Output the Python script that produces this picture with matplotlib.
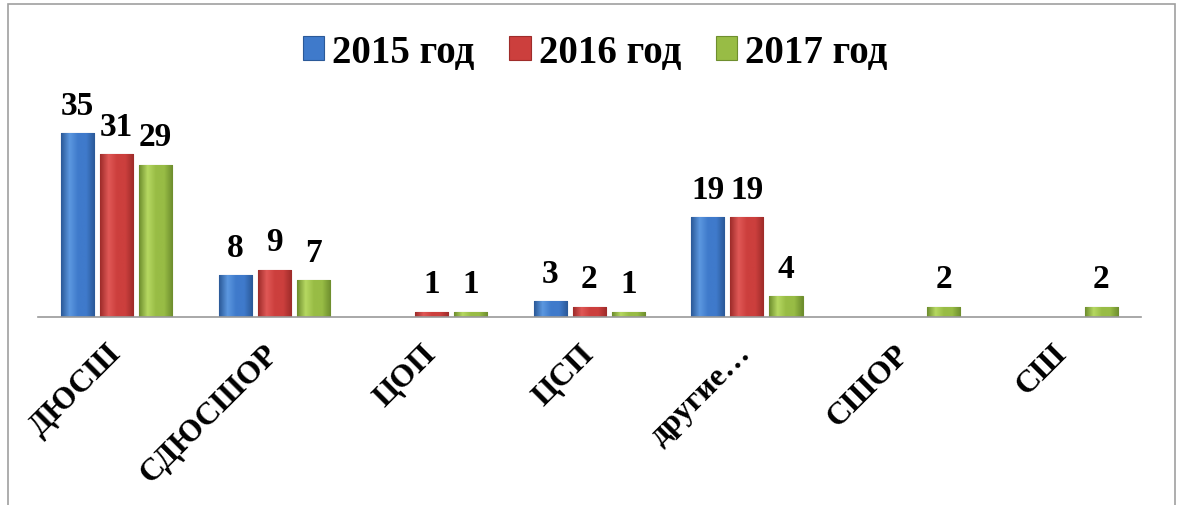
import numpy as np
import matplotlib.pyplot as plt
from matplotlib.patches import Rectangle
from matplotlib.colors import LinearSegmentedColormap

categories = ['ДЮСШ', 'СДЮСШОР', 'ЦОП', 'ЦСП', 'другие…', 'СШОР', 'СШ']
years = ['2015 год', '2016 год', '2017 год']
v2015 = [35, 8, 0, 3, 19, 0, 0]
v2016 = [31, 9, 1, 2, 19, 0, 0]
v2017 = [29, 7, 1, 1, 4, 2, 2]

colors = ['#3F7ACB', '#CC3F3D', '#98BC45']
shades = [('#2B5998', '#5C98E0'), ('#9E2C2A', '#E05856'), ('#6E8E2E', '#B6D862')]

plt.rcParams['font.family'] = ['Liberation Serif', 'DejaVu Serif']
plt.rcParams['font.weight'] = 'bold'

fig = plt.figure(figsize=(11.81, 5.06), dpi=100)
ax = fig.add_axes([0.032, 0.3715, 0.934, 0.415])

x = np.arange(len(categories))
width = 0.21
step = 0.248

for i, (vals, c, sh, lab) in enumerate(zip([v2015, v2016, v2017], colors, shades, years)):
    pos = x + (i - 1) * step
    h = [v if v > 0 else np.nan for v in vals]
    bars = ax.bar(pos, h, width, color=c, edgecolor=sh[0], linewidth=0.8, label=lab, zorder=2)
    cmap = LinearSegmentedColormap.from_list('g', [sh[0], sh[1], c, c, sh[0]])
    grad = np.linspace(0, 1, 64).reshape(1, -1)
    for b, v in zip(bars, vals):
        if not v > 0:
            continue
        x0, y0 = b.get_x(), b.get_y()
        im = ax.imshow(grad, cmap=cmap, aspect='auto', zorder=3,
                       extent=[x0, x0 + b.get_width(), y0, y0 + b.get_height()])
        im.set_clip_path(b)
        ax.annotate(str(v), (b.get_x() + b.get_width() / 2, v), xytext=(0, 9),
                    textcoords='offset points', ha='center', va='bottom',
                    fontsize=24, fontweight='bold', zorder=4)

ax.set_xlim(-0.5, len(categories) - 0.5)
ax.set_ylim(0, 40)
ax.set_xticks(x)
ax.set_xticklabels(categories, rotation=45, ha='right', va='center', rotation_mode='anchor',
                   fontsize=23, fontweight='bold')
ax.tick_params(axis='x', length=0, pad=23)
ax.set_yticks([])
for s in ['top', 'right', 'left']:
    ax.spines[s].set_visible(False)
ax.spines['bottom'].set_color('#9A9A9A')
ax.spines['bottom'].set_linewidth(1.2)
ax.spines['bottom'].set_zorder(5)

leg = ax.legend(loc='center', ncol=3, frameon=False, prop={'size': 28, 'weight': 'bold'},
                handlelength=0.55, handleheight=0.55, handletextpad=0.2, columnspacing=0.9)
leg.set_bbox_to_anchor((0.504, 0.895), transform=fig.transFigure)

fig.patches.append(Rectangle((0.007, -0.1), 0.988, 1.09, transform=fig.transFigure,
                             fill=False, edgecolor='#A0A0A0', linewidth=1.2))

fig.savefig('out.png', dpi=100)
